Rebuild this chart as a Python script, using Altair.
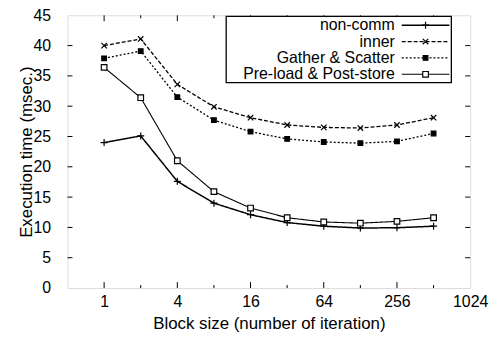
import altair as alt
import pandas as pd

# ---- data ----
block_sizes = [1, 2, 4, 8, 16, 32, 64, 128, 256, 512]
series_names = ["non-comm", "inner", "Gather & Scatter", "Pre-load & Post-store"]
non_comm = [24.0, 25.1, 17.6, 14.0, 12.1, 10.8, 10.2, 9.9, 9.95, 10.2]
inner = [40.0, 41.1, 33.6, 29.9, 28.1, 26.9, 26.5, 26.4, 26.9, 28.1]
gather = [37.9, 39.1, 31.5, 27.7, 25.8, 24.6, 24.1, 23.9, 24.2, 25.5]
preload = [36.4, 31.4, 21.0, 15.9, 13.2, 11.6, 10.9, 10.7, 11.0, 11.6]

x_label_values = [1, 4, 16, 64, 256, 1024]
x_major_ticks = [1, 4, 16, 64, 256]
x_minor_ticks = [2, 8, 32, 128, 512]
y_tick_values = [0, 5, 10, 15, 20, 25, 30, 35, 40, 45]
y_inner_ticks = [5, 10, 15, 20, 25, 30, 35, 40]

W, H = 406, 275
FONT = "Liberation Sans"

xscale = alt.Scale(type="log", base=2, domain=[0.5, 1024])
yscale = alt.Scale(domain=[0, 45], nice=False, zero=False)

xaxis = alt.Axis(values=x_label_values, format="d", ticks=False, domain=False, grid=False,
                 labelPadding=6, labelFontSize=16, labelFont=FONT, labelColor="black",
                 labelFlush=False, labelOverlap=False, title="Block size (number of iteration)",
                 titleFont=FONT, titleFontSize=17, titleFontWeight="normal",
                 titleColor="black", titlePadding=6)
yaxis = alt.Axis(values=y_tick_values, ticks=False, domain=False, grid=False,
                 labelPadding=17, labelFontSize=16, labelFont=FONT, labelColor="black",
                 labelOverlap=False, labelFlush=False,
                 title="Execution time (msec.)", titleFont=FONT, titleFontSize=17,
                 titleFontWeight="normal", titleColor="black", titlePadding=-2)

series_values = [non_comm, inner, gather, preload]
styles = [
    dict(dash=[1, 0], width=1.5, shape="M-1,0L1,0M0,-1L0,1", size=50, filled=False, fill=None),
    dict(dash=[4, 2], width=1.3, shape="M-1,-1L1,1M-1,1L1,-1", size=30, filled=False, fill=None),
    dict(dash=[2, 2], width=1.3, shape="square", size=22, filled=True, fill="black"),
    dict(dash=[1, 0], width=1.1, shape="square", size=32, filled=True, fill="white"),
]

layers = []

# inward tick marks
xt_major = pd.DataFrame({"b": x_major_ticks})
xt_minor = pd.DataFrame({"b": x_minor_ticks})
yt = pd.DataFrame({"v": y_inner_ticks})
for df, ln in [(xt_major, 6), (xt_minor, 3)]:
    layers.append(alt.Chart(df).mark_rule(color="black", strokeWidth=1).encode(
        x=alt.X("b:Q", scale=xscale, axis=xaxis), y=alt.value(H), y2=alt.value(H - ln)))
    layers.append(alt.Chart(df).mark_rule(color="black", strokeWidth=1).encode(
        x=alt.X("b:Q", scale=xscale, axis=xaxis), y=alt.value(0), y2=alt.value(ln)))
layers.append(alt.Chart(yt).mark_rule(color="black", strokeWidth=1).encode(
    y=alt.Y("v:Q", scale=yscale, axis=yaxis), x=alt.value(0), x2=alt.value(5)))
layers.append(alt.Chart(yt).mark_rule(color="black", strokeWidth=1).encode(
    y=alt.Y("v:Q", scale=yscale, axis=yaxis), x=alt.value(W - 5), x2=alt.value(W)))

# series
for name, vals, st in zip(series_names, series_values, styles):
    df = pd.DataFrame({"b": block_sizes, "t": vals, "s": name})
    base = alt.Chart(df).encode(
        x=alt.X("b:Q", scale=xscale, axis=xaxis),
        y=alt.Y("t:Q", scale=yscale, axis=yaxis))
    layers.append(base.mark_line(color="black", strokeWidth=st["width"], strokeDash=st["dash"]))
    pkw = dict(shape=st["shape"], size=st["size"], stroke="black", strokeWidth=1.2, opacity=1)
    if st["filled"]:
        pkw.update(filled=True, fill=st["fill"])
    else:
        pkw.update(filled=False)
    layers.append(base.mark_point(**pkw))

# legend (drawn by hand: labels to the left of the samples)
one = pd.DataFrame({"k": [0]})
box = dict(x0=160, x1=387, y0=1, y1=68)
layers.append(alt.Chart(one).mark_rect(fill="white", stroke="black", strokeWidth=1.3).encode(
    x=alt.value(box["x0"]), x2=alt.value(box["x1"]), y=alt.value(box["y0"]), y2=alt.value(box["y1"])))
row_y = [10, 26.5, 43, 59.5]
for name, st, ry in zip(series_names, styles, row_y):
    lab = pd.DataFrame({"s": [name]})
    layers.append(alt.Chart(lab).mark_text(align="right", baseline="middle", font=FONT,
                                           fontSize=16, color="black").encode(
        x=alt.value(330), y=alt.value(ry), text="s:N"))
    layers.append(alt.Chart(one).mark_rule(color="black", strokeWidth=st["width"],
                                           strokeDash=st["dash"]).encode(
        x=alt.value(337), x2=alt.value(385), y=alt.value(ry)))
    pkw = dict(shape=st["shape"], size=st["size"], stroke="black", strokeWidth=1.2, opacity=1)
    if st["filled"]:
        pkw.update(filled=True, fill=st["fill"])
    else:
        pkw.update(filled=False)
    layers.append(alt.Chart(one).mark_point(**pkw).encode(x=alt.value(361), y=alt.value(ry)))

chart = alt.layer(*layers).properties(
    width=W, height=H, autosize=alt.AutoSizeParams(type="none"),
    padding={"left": 60, "top": 6, "right": 22, "bottom": 45},
).configure_view(stroke="black", strokeWidth=1.5).configure(background="white")

chart.save("out.html", embed_options={"renderer": "svg", "actions": False})
